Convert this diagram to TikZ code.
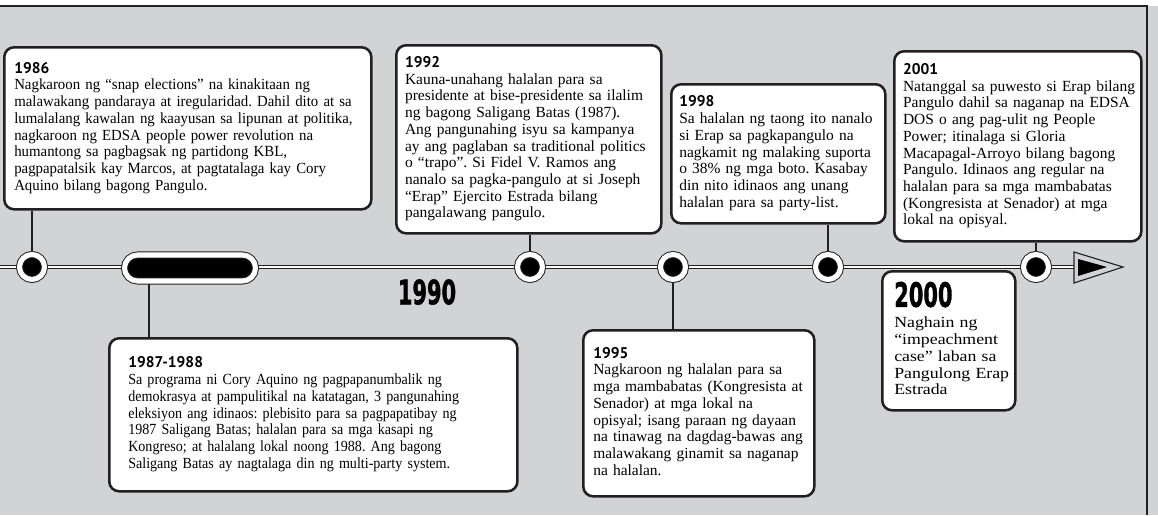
\documentclass[tikz,border=0pt]{standalone}
\usepackage{fontspec}
\setmainfont{Liberation Serif}
\newfontfamily\widerserif{Liberation Serif}[FakeStretch=1.15]
\newfontfamily\condserif{Liberation Serif}[FakeStretch=0.96]
\newfontfamily\narrowserif{Liberation Serif}[FakeStretch=0.91]
\newfontfamily\headfont{PT Sans}
\newfontfamily\yearfont{DejaVu Sans}[FakeBold=1.5]
\usetikzlibrary{positioning}

\definecolor{bggray}{HTML}{D1D3D4}
\definecolor{ink}{HTML}{231F20}

\newcommand{\yr}[1]{{\headfont\bfseries\fontsize{11}{11.9}\selectfont #1}}
\newcommand{\bodysize}{\fontsize{11}{11.9}\selectfont\frenchspacing}

\tikzset{
  evbox/.style={draw=ink,line width=1.8pt,fill=white,rounded corners=7pt,
    anchor=north west,align=left,inner xsep=0.25cm,inner ysep=0pt,
    font=\bodysize},
  evdot/.style={circle,fill=black,draw=ink,line width=0.7pt,
    double=white,double distance=3.6pt,minimum size=0.625cm,inner sep=0pt},
  evpill/.style={rectangle,fill=black,draw=ink,line width=0.7pt,
    double=white,double distance=3.6pt,rounded corners=0.325cm,
    minimum width=3.275cm,minimum height=0.65cm,inner sep=0pt},
  stem/.style={draw=ink,line width=1.4pt},
  bigyear/.style={font=\yearfont\bfseries\fontsize{24}{26}\selectfont},
}

\begin{document}
\begin{tikzpicture}[x=0.025cm,y=-0.025cm]
  \useasboundingbox(0,0)rectangle(1158,515);
  \fill[bggray](0,0)rectangle(1158,515);%background
  \fill[white](0,0)rectangle(1158,6);
  \draw[ink,line width=1.4pt](0,6)--(1147,6)--(1147,515);%frame

  \coordinate(TL)at(0,267);%timeline start
  \coordinate(TR)at(1078,267);%timeline end
  \coordinate(t1986)at(32,267);
  \coordinate(t1987)at(149,267);
  \coordinate(t1992)at(530,267);
  \coordinate(t1995)at(673,267);
  \coordinate(t1998)at(828,267);
  \coordinate(t2001)at(1036,267);

  % upper boxes
  \node[evbox,font=\condserif\bodysize,text width=8.675cm,minimum height=4.05cm](b1986)at(3,46){%
    \begin{tabular}{@{}l@{}}
    \yr{1986}\\
    Nagkaroon ng “snap elections” na kinakitaan ng\\
    malawakang pandaraya at iregularidad. Dahil dito at sa\\
    lumalalang kawalan ng kaayusan sa lipunan at politika,\\
    nagkaroon ng EDSA people power revolution na\\
    humantong sa pagbagsak ng partidong KBL,\\
    pagpapatalsik kay Marcos, at pagtatalaga kay Cory\\
    Aquino bilang bagong Pangulo.
    \end{tabular}};
  \node[evbox,inner xsep=0.22cm,text width=6.185cm,minimum height=4.7cm](b1992)at(395,44){%
    \begin{tabular}{@{}l@{}}
    \yr{1992}\\
    Kauna-unahang halalan para sa\\
    presidente at bise-presidente sa ilalim\\
    ng bagong Saligang Batas (1987).\\
    Ang pangunahing isyu sa kampanya\\
    ay ang paglaban sa traditional politics\\
    o “trapo”. Si Fidel V. Ramos ang\\
    nanalo sa pagka-pangulo at si Joseph\\
    “Erap” Ejercito Estrada bilang\\
    pangalawang pangulo.
    \end{tabular}};
  \node[evbox,inner xsep=0.2cm,text width=4.95cm,minimum height=3.475cm](b1998)at(670,83){%
    \begin{tabular}{@{}l@{}}
    \yr{1998}\\
    Sa halalan ng taong ito nanalo\\
    si Erap sa pagkapangulo na\\
    nagkamit ng malaking suporta\\
    o 38\% ng mga boto. Kasabay\\
    din nito idinaos ang unang\\
    halalan para sa party-list.
    \end{tabular}};
  \node[evbox,inner xsep=0.22cm,text width=5.735cm,minimum height=4.75cm](b2001)at(893,50){%
    \begin{tabular}{@{}l@{}}
    \yr{2001}\\
    Natanggal sa puwesto si Erap bilang\\
    Pangulo dahil sa naganap na EDSA\\
    DOS o ang pag-ulit ng People\\
    Power; itinalaga si Gloria\\
    Macapagal-Arroyo bilang bagong\\
    Pangulo. Idinaos ang regular na\\
    halalan para sa mga mambabatas\\
    (Kongresista at Senador) at mga\\
    lokal na opisyal.
    \end{tabular}};

  % lower boxes
  \node[evbox,font=\narrowserif\bodysize,inner xsep=0.475cm,text width=9.25cm,minimum height=3.825cm](b1987)at(108,337){%
    \begin{tabular}{@{}l@{}}
    \yr{1987-1988}\\
    Sa programa ni Cory Aquino ng pagpapanumbalik ng\\
    demokrasya at pampulitikal na katatagan, 3 pangunahing\\
    eleksiyon ang idinaos: plebisito para sa pagpapatibay ng\\
    1987 Saligang Batas; halalan para sa mga kasapi ng\\
    Kongreso; at halalang lokal noong 1988. Ang bagong\\
    Saligang Batas ay nagtalaga din ng multi-party system.
    \end{tabular}};
  \node[evbox,inner xsep=0.25cm,text width=5.275cm,minimum height=4.15cm](b1995)at(582,329){%
    \begin{tabular}{@{}l@{}}
    \yr{1995}\\
    Nagkaroon ng halalan para sa\\
    mga mambabatas (Kongresista at\\
    Senador) at mga lokal na\\
    opisyal; isang paraan ng dayaan\\
    na tinawag na dagdag-bawas ang\\
    malawakang ginamit sa naganap\\
    na halalan.
    \end{tabular}};

  % stems
  \draw[stem](b1986.south-|t1986)--(t1986);
  \draw[stem](b1992.south-|t1992)--(t1992);
  \draw[stem](b1998.south-|t1998)--(t1998);
  \draw[stem](b2001.south-|t2001)--(t2001);
  \draw[stem](b1987.north-|t1987)--(t1987);
  \draw[stem](b1995.north-|t1995)--(t1995);

  % timeline
  \draw[ink,line width=0.9pt,double=white,double distance=1.6pt](TL)--(TR);
  \draw[ink,line width=0.8pt,fill=bggray](1074,252)--(1123,267)--(1074,283)--cycle;
  \fill[black](1078,259)--(1107,267)--(1078,276)--cycle;

  \foreach \y in{1986,1992,1995,1998,2001}
    \node[evdot](c\y)at(t\y){};
  \node[evpill](p1987)at(190,268){};

  \node[bigyear](y1990)at(427,292){\scalebox{0.62}[1]{1990}};

  \node[evbox,font=\widerserif\bodysize,inner xsep=0.3cm,text width=2.725cm,minimum height=3.475cm](b2000)at(881,270){%
    \begin{tabular}{@{}l@{}}
    \scalebox{0.62}[1]{\yearfont\bfseries\fontsize{24}{26}\selectfont 2000}\\[3pt]
    Naghain ng\\
    “impeachment\\
    case” laban sa\\
    Pangulong Erap\\
    Estrada
    \end{tabular}};
\end{tikzpicture}
\end{document}
